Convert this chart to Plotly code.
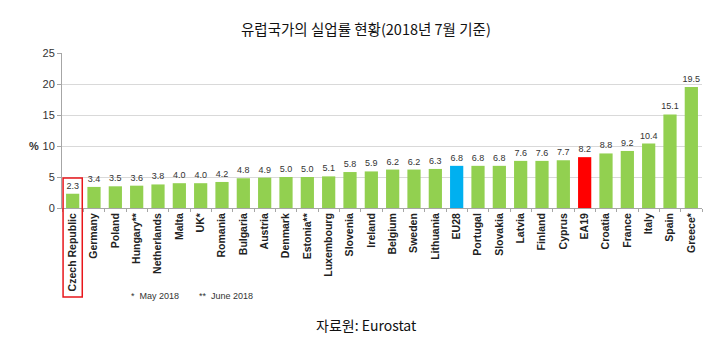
import plotly.graph_objects as go

countries = ["Czech Republic", "Germany", "Poland", "Hungary**", "Netherlands", "Malta", "UK*",
             "Romania", "Bulgaria", "Austria", "Denmark", "Estonia**", "Luxembourg", "Slovenia",
             "Ireland", "Belgium", "Sweden", "Lithuania", "EU28", "Portugal", "Slovakia", "Latvia",
             "Finland", "Cyprus", "EA19", "Croatia", "France", "Italy", "Spain", "Greece*"]
rates = [2.3, 3.4, 3.5, 3.6, 3.8, 4.0, 4.0, 4.2, 4.8, 4.9, 5.0, 5.0, 5.1, 5.8, 5.9, 6.2, 6.2,
         6.3, 6.8, 6.8, 6.8, 7.6, 7.6, 7.7, 8.2, 8.8, 9.2, 10.4, 15.1, 19.5]
special_colors = {"EU28": "#00B0F0", "EA19": "#FF0000"}
colors = [special_colors.get(c, "#92D050") for c in countries]

font = "Liberation Sans, Arial, sans-serif"
fig = go.Figure(go.Bar(
    x=countries, y=rates, marker_color=colors, marker_line_width=0,
    text=[f"{v:.1f}" for v in rates], textposition="outside", cliponaxis=False,
    constraintext="none",
    textfont=dict(size=9, color="#333333", family=font),
))

fig.update_layout(
    width=727, height=345,
    margin=dict(l=62, r=25, t=53, b=137),
    plot_bgcolor="white", paper_bgcolor="white",
    bargap=0.38, showlegend=False,
    font=dict(family=font, color="#333333"),
)
fig.update_yaxes(range=[0, 25], tickvals=[0, 5, 10, 15, 20, 25], showgrid=True,
                 gridcolor="#D9D9D9", gridwidth=1, showline=True, linecolor="#A6A6A6",
                 ticks="outside", ticklen=4, tickcolor="#A6A6A6",
                 tickfont=dict(size=11, color="#333333"), zeroline=False)
fig.update_xaxes(tickangle=-90, showline=True, linecolor="#A6A6A6", ticks="outside",
                 ticklen=3, tickcolor="#A6A6A6", tickson="boundaries",
                 tickfont=dict(size=10.5, color="#222222", weight="bold"))

# red highlight box around the first category
fig.add_shape(type="rect", xref="x", yref="paper", x0=-0.45, x1=0.45, y0=-0.574, y1=0.194,
              line=dict(color="#E8161B", width=1.5), fillcolor="rgba(0,0,0,0)")

fig.add_annotation(text="유럽국가의 실업률 현황(2018년 7월 기준)", xref="paper", yref="paper",
                   x=0.475, y=1.161, yanchor="middle", showarrow=False,
                   font=dict(family="Noto Sans CJK KR", size=14.5, color="#111111"))
fig.add_annotation(text="<b>%</b>", xref="paper", yref="paper", x=-0.055, y=0.40,
                   yanchor="middle", showarrow=False, font=dict(size=11, color="#333333"))
fig.add_annotation(text="*  May 2018        **  June 2018", xref="paper", yref="paper",
                   x=0.105, y=-0.568, xanchor="left", yanchor="middle", showarrow=False,
                   font=dict(size=9, color="#333333"))
fig.add_annotation(text="자료원: Eurostat", xref="paper", yref="paper", x=0.475, y=-0.755,
                   yanchor="middle", showarrow=False,
                   font=dict(family="Noto Sans CJK KR", size=14, color="#111111"))

fig.write_html("out.html")
